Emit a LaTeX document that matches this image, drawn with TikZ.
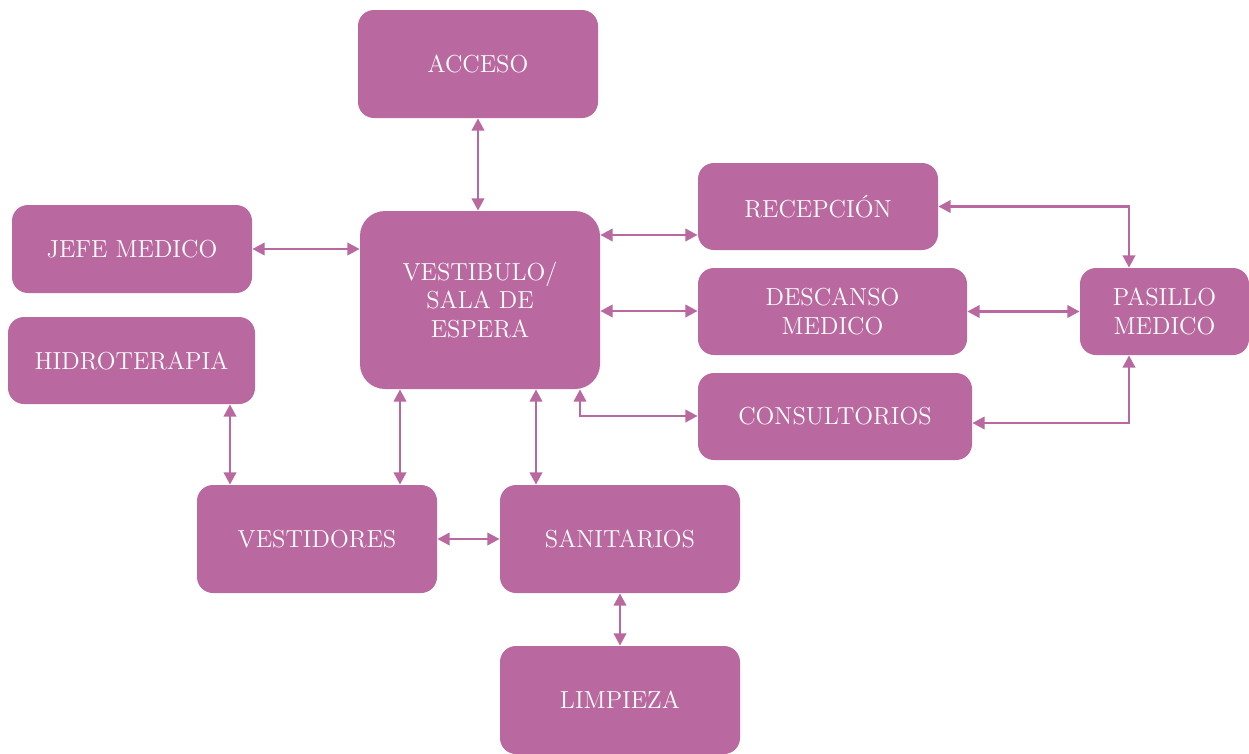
\documentclass[tikz,border=0pt]{standalone}
\usetikzlibrary{arrows.meta}
\definecolor{mauve}{HTML}{B9699F}
\begin{document}
\begin{tikzpicture}[x=0.02cm,y=-0.02cm,
  box/.style={fill=mauve,draw=none,rounded corners=0.32cm,text=white,align=center,
    font=\fontsize{14}{16.5}\selectfont,inner sep=0pt},
  link/.style={draw=mauve,line width=1.6pt,{Triangle[length=7pt,width=7pt]}-{Triangle[length=7pt,width=7pt]}}]
\useasboundingbox (0,0) rectangle (1249,754);
\node[box,minimum width=240*0.02cm,minimum height=108*0.02cm] (acc) at (478,64) {ACCESO};
\node[box,minimum width=240*0.02cm,minimum height=87*0.02cm] (rec) at (818,206.5) {RECEPCIÓN};
\node[box,minimum width=240*0.02cm,minimum height=88*0.02cm] (jefe) at (132,249) {JEFE MEDICO};
\node[box,rounded corners=0.5cm,minimum width=240*0.02cm,minimum height=178*0.02cm,font=\fontsize{14}{16}\selectfont] (vest) at (480,300) {VESTIBULO/\\SALA DE\\ESPERA};
\node[box,minimum width=269*0.02cm,minimum height=87*0.02cm] (desc) at (832.5,311.5) {DESCANSO\\MEDICO};
\node[box,minimum width=169*0.02cm,minimum height=87*0.02cm] (pas) at (1164.5,311.5) {PASILLO\\MEDICO};
\node[box,minimum width=247*0.02cm,minimum height=87*0.02cm] (hid) at (131.5,360.5) {HIDROTERAPIA};
\node[box,minimum width=274*0.02cm,minimum height=87*0.02cm] (cons) at (835,416.5) {CONSULTORIOS};
\node[box,minimum width=240*0.02cm,minimum height=108*0.02cm] (vestd) at (317,539) {VESTIDORES};
\node[box,minimum width=240*0.02cm,minimum height=108*0.02cm] (san) at (620,539) {SANITARIOS};
\node[box,minimum width=240*0.02cm,minimum height=108*0.02cm] (lim) at (620,700) {LIMPIEZA};

\draw[link] (acc.south) -- (vest.north -| acc.south);
\draw[link] (jefe.east) -- (jefe.east -| vest.west);
\draw[link] (vest.east |- 0,235) -- (rec.west |- 0,235);
\draw[link] (vest.east |- 0,311) -- (desc.west |- 0,311);
\draw[link] (vest.south -| 580,0) -- (580,416) -- (cons.west |- 0,416);
\draw[link] (rec.east) -- (1129,206.5) -- (pas.north -| 1129,0);
\draw[link] (desc.east) -- (pas.west);
\draw[link] (cons.east |- 0,423) -- (1129,423) -- (pas.south -| 1129,0);
\draw[link] (hid.south -| 230,0) -- (vestd.north -| 230,0);
\draw[link] (vest.south -| 400,0) -- (vestd.north -| 400,0);
\draw[link] (vest.south -| 536,0) -- (san.north -| 536,0);
\draw[link] (vestd.east) -- (san.west);
\draw[link] (san.south) -- (lim.north);
\end{tikzpicture}
\end{document}
